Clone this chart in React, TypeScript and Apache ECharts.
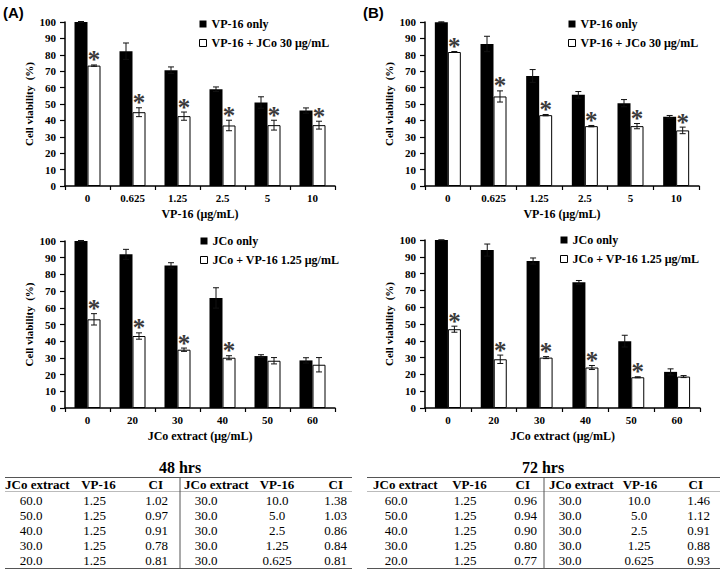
import React, { useEffect, useRef } from "react";
import * as echarts from "echarts";

// ---------- data ----------
const vpCategories = ["0", "0.625", "1.25", "2.5", "5", "10"];
const jcoCategories = ["0", "20", "30", "40", "50", "60"];

const vpOnlyName = "VP-16 only";
const vpComboName = "VP-16 + JCo 30 μg/mL";
const jcoOnlyName = "JCo only";
const jcoComboName = "JCo + VP-16 1.25 μg/mL";

// (A) 48 h, VP-16 dose series
const a48VpOnly = [100, 82.2, 70.6, 59.0, 50.9, 46.0];
const a48VpOnlyErr = [0.3, 5.0, 2.0, 1.4, 3.5, 1.6];
const a48VpCombo = [73.4, 45.0, 42.6, 36.9, 37.1, 37.1];
const a48VpComboErr = [0.4, 2.7, 2.5, 3.2, 3.0, 2.4];
const a48VpStars = [1, 1, 1, 1, 1, 1];

// (B) 72 h, VP-16 dose series
const b72VpOnly = [99.8, 86.6, 67.1, 55.6, 50.5, 42.2];
const b72VpOnlyErr = [0.3, 4.7, 3.9, 2.0, 2.2, 0.8];
const b72VpCombo = [81.7, 54.6, 43.2, 36.5, 36.5, 33.9];
const b72VpComboErr = [0.3, 3.4, 0.4, 0.4, 1.6, 2.0];
const b72VpStars = [1, 1, 1, 1, 1, 1];

// (A) 48 h, JCo extract series
const a48JcoOnly = [100, 92.0, 85.4, 65.9, 31.1, 28.5];
const a48JcoOnlyErr = [0.3, 3.0, 1.6, 6.1, 0.8, 1.6];
const a48JcoCombo = [53.1, 43.1, 34.9, 30.1, 28.3, 25.9];
const a48JcoComboErr = [3.4, 1.9, 1.0, 1.2, 1.9, 4.3];
const a48JcoStars = [1, 1, 1, 1, 0, 0];

// (B) 72 h, JCo extract series
const b72JcoOnly = [100, 94.0, 87.5, 74.8, 39.8, 21.5];
const b72JcoOnlyErr = [0, 3.6, 1.8, 1.1, 3.5, 1.8];
const b72JcoCombo = [46.9, 29.0, 30.0, 24.1, 18.3, 18.7];
const b72JcoComboErr = [1.8, 2.5, 0.6, 1.2, 0.3, 0.6];
const b72JcoStars = [1, 1, 1, 1, 1, 0];

// Tables
const tableHeaders = ["JCo extract", "VP-16", "CI", "JCo extract", "VP-16", "CI"];
const t48JcoVaried = ["60.0", "50.0", "40.0", "30.0", "20.0"];
const t48VpFixed = ["1.25", "1.25", "1.25", "1.25", "1.25"];
const t48CiA = ["1.02", "0.97", "0.91", "0.78", "0.81"];
const t48JcoFixed = ["30.0", "30.0", "30.0", "30.0", "30.0"];
const t48VpVaried = ["10.0", "5.0", "2.5", "1.25", "0.625"];
const t48CiB = ["1.38", "1.03", "0.86", "0.84", "0.81"];

const t72JcoVaried = ["60.0", "50.0", "40.0", "30.0", "20.0"];
const t72VpFixed = ["1.25", "1.25", "1.25", "1.25", "1.25"];
const t72CiA = ["0.96", "0.94", "0.90", "0.80", "0.77"];
const t72JcoFixed = ["30.0", "30.0", "30.0", "30.0", "30.0"];
const t72VpVaried = ["10.0", "5.0", "2.5", "1.25", "0.625"];
const t72CiB = ["1.46", "1.12", "0.91", "0.88", "0.93"];

// ---------- styling ----------
const SERIF = "'Liberation Serif', 'Times New Roman', serif";
const SANS = "'Liberation Sans', Arial, sans-serif";
const BAR_W = 13;

const grids = [
  { left: 65, top: 22, width: 270, height: 164 },
  { left: 425, top: 22, width: 274, height: 164 },
  { left: 65, top: 241, width: 270, height: 167 },
  { left: 425, top: 240, width: 275, height: 168 },
];

function xAxis(idx: number, cats: string[], name: string) {
  return {
    type: "category",
    gridIndex: idx,
    data: cats,
    name,
    nameLocation: "middle",
    nameGap: 22,
    nameTextStyle: { fontFamily: SERIF, fontWeight: "bold", fontSize: 12, color: "#000" },
    axisLine: { lineStyle: { color: "#000", width: 1.5 } },
    axisTick: { show: true, length: 4, lineStyle: { color: "#000", width: 1.2 } },
    axisLabel: { fontFamily: SERIF, fontWeight: "bold", fontSize: 11, color: "#000", margin: 6 },
    splitLine: { show: false },
  };
}

function yAxis(idx: number) {
  return {
    type: "value",
    gridIndex: idx,
    min: 0,
    max: 100,
    interval: 10,
    name: "Cell viability  (%)",
    nameLocation: "middle",
    nameGap: 31,
    nameRotate: 90,
    nameTextStyle: { fontFamily: SERIF, fontWeight: "bold", fontSize: 11, color: "#000" },
    axisLine: { show: true, lineStyle: { color: "#000", width: 1.5 } },
    axisTick: { show: true, length: 5, lineStyle: { color: "#000", width: 1.2 } },
    axisLabel: { fontFamily: SERIF, fontWeight: "bold", fontSize: 11, color: "#000", margin: 9 },
    splitLine: { show: false },
  };
}

function barSeries(idx: number, name: string, data: number[], filled: boolean) {
  return {
    type: "bar",
    name,
    xAxisIndex: idx,
    yAxisIndex: idx,
    data,
    barWidth: BAR_W,
    barGap: "0%",
    itemStyle: filled
      ? { color: "#000" }
      : { color: "#fff", borderColor: "#000", borderWidth: 1 },
    silent: true,
  };
}

function errSeries(idx: number, values: number[], errs: number[], stars: number[] | null, side: number) {
  return {
    type: "custom",
    xAxisIndex: idx,
    yAxisIndex: idx,
    silent: true,
    z: 5,
    data: values.map((v, i) => [i, v, errs[i], stars ? stars[i] : 0]),
    renderItem: (_params: any, api: any) => {
      const i = api.value(0);
      const v = api.value(1);
      const e = api.value(2);
      const s = api.value(3);
      const c = api.coord([i, v]);
      const x = c[0] + (side * BAR_W) / 2;
      const top = api.coord([i, v + e])[1];
      const bot = api.coord([i, v - e])[1];
      const ls = { stroke: "#111", lineWidth: 1 };
      const children: any[] = [
        { type: "line", shape: { x1: x, y1: top, x2: x, y2: bot }, style: ls },
        { type: "line", shape: { x1: x - 3, y1: top, x2: x + 3, y2: top }, style: ls },
        { type: "line", shape: { x1: x - 3, y1: bot, x2: x + 3, y2: bot }, style: ls },
      ];
      if (s) {
        children.push({
          type: "text",
          x,
          y: top - 5,
          style: {
            text: "*",
            fontSize: 25,
            fontWeight: "bold",
            fontFamily: SERIF,
            fill: "#3a3a3a",
            align: "center",
            verticalAlign: "middle",
          },
        });
      }
      return { type: "group", children };
    },
  };
}

function legend(left: number, top: number, names: string[]) {
  return {
    orient: "vertical",
    left,
    top,
    padding: 0,
    itemWidth: 7,
    itemHeight: 7,
    itemGap: 7,
    selectedMode: false,
    textStyle: { fontFamily: SERIF, fontWeight: "bold", fontSize: 12, color: "#000" },
    data: [
      { name: names[0], icon: "rect", itemStyle: { color: "#000", borderWidth: 0 } },
      { name: names[1], icon: "rect", itemStyle: { color: "#fff", borderColor: "#000", borderWidth: 1 } },
    ],
  };
}

type Col = { hx: number; ha: string; dx: number; da: string };

function tableGraphics(
  title: string,
  titleX: number,
  x0: number,
  x1: number,
  divX: number,
  cols: Col[],
  columns: string[][]
) {
  const els: any[] = [];
  els.push({
    type: "text",
    x: titleX,
    y: 467,
    style: { text: title, fontFamily: SERIF, fontWeight: "bold", fontSize: 16, fill: "#000", align: "center", verticalAlign: "middle" },
  });
  const lineStyle = { stroke: "#555", lineWidth: 1 };
  els.push({ type: "line", shape: { x1: x0, y1: 477.5, x2: x1, y2: 477.5 }, style: lineStyle });
  els.push({ type: "line", shape: { x1: x0, y1: 491.5, x2: x1, y2: 491.5 }, style: { stroke: "#bbb", lineWidth: 1 } });
  els.push({ type: "line", shape: { x1: x0, y1: 568.5, x2: x1, y2: 568.5 }, style: lineStyle });
  els.push({ type: "line", shape: { x1: divX, y1: 477.5, x2: divX, y2: 568.5 }, style: lineStyle });
  cols.forEach((c, ci) => {
    els.push({
      type: "text",
      x: c.hx,
      y: 484.5,
      style: { text: tableHeaders[ci], fontFamily: SERIF, fontWeight: "bold", fontSize: 13, fill: "#000", align: c.ha, verticalAlign: "middle" },
    });
    columns[ci].forEach((val, ri) => {
      els.push({
        type: "text",
        x: c.dx,
        y: 500 + ri * 15,
        style: { text: val, fontFamily: SERIF, fontSize: 13, fill: "#000", align: c.da, verticalAlign: "middle" },
      });
    });
  });
  return els;
}

const leftCols: Col[] = [
  { hx: 5, ha: "left", dx: 31, da: "center" },
  { hx: 98.5, ha: "center", dx: 94.5, da: "center" },
  { hx: 163, ha: "right", dx: 168, da: "right" },
  { hx: 184, ha: "left", dx: 206, da: "center" },
  { hx: 277, ha: "center", dx: 277, da: "center" },
  { hx: 343, ha: "right", dx: 347, da: "right" },
];
const rightCols: Col[] = [
  { hx: 373, ha: "left", dx: 396, da: "center" },
  { hx: 469.5, ha: "center", dx: 465, da: "center" },
  { hx: 530, ha: "right", dx: 537, da: "right" },
  { hx: 549, ha: "left", dx: 570, da: "center" },
  { hx: 640, ha: "center", dx: 639, da: "center" },
  { hx: 703, ha: "right", dx: 710, da: "right" },
];

export default function App() {
  const ref = useRef<HTMLDivElement>(null);
  useEffect(() => {
    if (!ref.current) return;
    const chart = echarts.init(ref.current, null, { renderer: "svg" });
    const option: any = {
      animation: false,
      backgroundColor: "#fff",
      grid: grids.map((g) => ({ ...g, containLabel: false, outerBoundsMode: "none" })),
      xAxis: [
        xAxis(0, vpCategories, "VP-16 (μg/mL)"),
        xAxis(1, vpCategories, "VP-16 (μg/mL)"),
        xAxis(2, jcoCategories, "JCo extract (μg/mL)"),
        xAxis(3, jcoCategories, "JCo extract (μg/mL)"),
      ],
      yAxis: [yAxis(0), yAxis(1), yAxis(2), yAxis(3)],
      legend: [
        legend(199, 18, [vpOnlyName, vpComboName]),
        legend(568, 18, [vpOnlyName, vpComboName]),
        legend(200, 235, [jcoOnlyName, jcoComboName]),
        legend(560, 234, [jcoOnlyName, jcoComboName]),
      ],
      series: [
        barSeries(0, vpOnlyName, a48VpOnly, true),
        barSeries(0, vpComboName, a48VpCombo, false),
        errSeries(0, a48VpOnly, a48VpOnlyErr, null, -1),
        errSeries(0, a48VpCombo, a48VpComboErr, a48VpStars, 1),

        barSeries(1, vpOnlyName, b72VpOnly, true),
        barSeries(1, vpComboName, b72VpCombo, false),
        errSeries(1, b72VpOnly, b72VpOnlyErr, null, -1),
        errSeries(1, b72VpCombo, b72VpComboErr, b72VpStars, 1),

        barSeries(2, jcoOnlyName, a48JcoOnly, true),
        barSeries(2, jcoComboName, a48JcoCombo, false),
        errSeries(2, a48JcoOnly, a48JcoOnlyErr, null, -1),
        errSeries(2, a48JcoCombo, a48JcoComboErr, a48JcoStars, 1),

        barSeries(3, jcoOnlyName, b72JcoOnly, true),
        barSeries(3, jcoComboName, b72JcoCombo, false),
        errSeries(3, b72JcoOnly, b72JcoOnlyErr, null, -1),
        errSeries(3, b72JcoCombo, b72JcoComboErr, b72JcoStars, 1),
      ],
      graphic: [
        {
          type: "text",
          x: 3,
          y: 12,
          style: { text: "(A)", fontFamily: SANS, fontWeight: "bold", fontSize: 15, fill: "#000", verticalAlign: "middle" },
        },
        {
          type: "text",
          x: 363,
          y: 12,
          style: { text: "(B)", fontFamily: SANS, fontWeight: "bold", fontSize: 15, fill: "#000", verticalAlign: "middle" },
        },
        ...tableGraphics("48 hrs", 180, 5, 352, 180, leftCols, [
          t48JcoVaried, t48VpFixed, t48CiA, t48JcoFixed, t48VpVaried, t48CiB,
        ]),
        ...tableGraphics("72 hrs", 543, 367, 720, 544, rightCols, [
          t72JcoVaried, t72VpFixed, t72CiA, t72JcoFixed, t72VpVaried, t72CiB,
        ]),
      ],
    };
    chart.setOption(option);
    return () => chart.dispose();
  }, []);
  return (
    <div
      ref={ref}
      style={{ position: "absolute", left: 0, top: 0, width: 720, height: 569, background: "#fff" }}
    />
  );
}
